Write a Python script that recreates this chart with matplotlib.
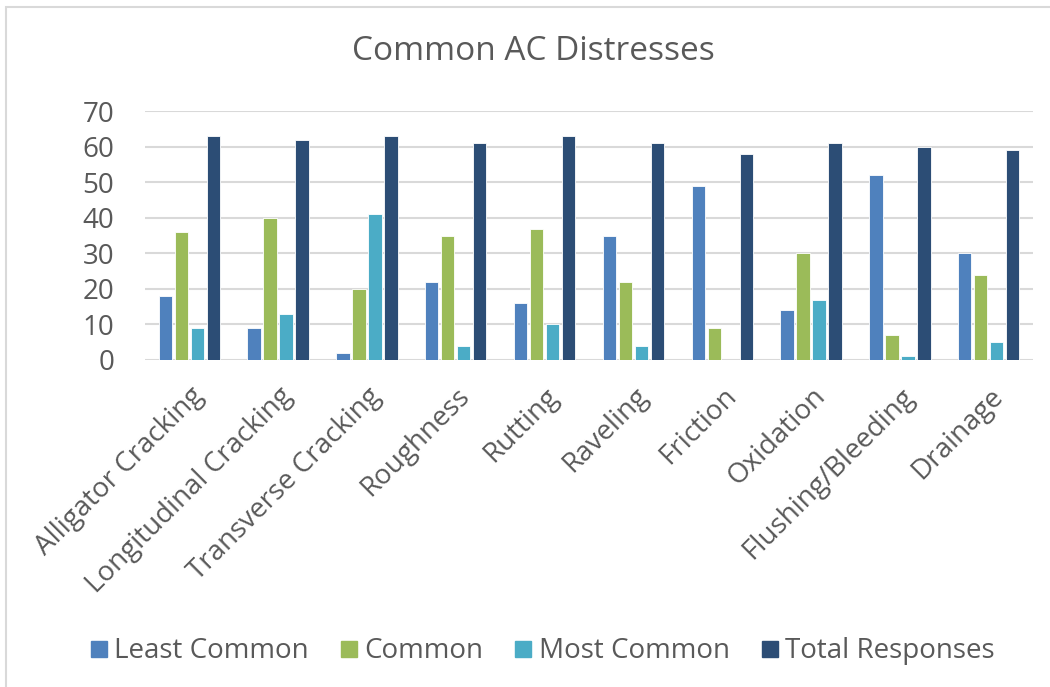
import numpy as np
import matplotlib.pyplot as plt
from matplotlib.patches import Rectangle
from matplotlib.lines import Line2D

plt.rcParams['font.family'] = ['Open Sans', 'DejaVu Sans']

categories = ["Alligator Cracking", "Longitudinal Cracking", "Transverse Cracking",
              "Roughness", "Rutting", "Raveling", "Friction", "Oxidation",
              "Flushing/Bleeding", "Drainage"]
least_common = [18, 9, 2, 22, 16, 35, 49, 14, 52, 30]
common = [36, 40, 20, 35, 37, 22, 9, 30, 7, 24]
most_common = [9, 13, 41, 4, 10, 4, 0, 17, 1, 5]
total_responses = [63, 62, 63, 61, 63, 61, 58, 61, 60, 59]

series = [("Least Common", least_common, "#4F81BD"),
          ("Common", common, "#9BBB59"),
          ("Most Common", most_common, "#4BACC6"),
          ("Total Responses", total_responses, "#2C4D75")]

txt = "#595959"
fig = plt.figure(figsize=(10.5, 6.87), dpi=100)
ax = fig.add_axes([0.138, 0.476, 0.846, 0.362])

x = np.arange(len(categories))
step = 0.18
w = 0.15
for i, (name, vals, col) in enumerate(series):
    ax.bar(x + (i - 1.5) * step, vals, w, color=col, edgecolor="white",
           linewidth=0.6, zorder=3, label=name)

ax.set_xlim(-0.5, len(categories) - 0.5)
ax.set_ylim(0, 70)
ax.set_yticks(range(0, 71, 10))
ax.yaxis.grid(True, color="#D9D9D9", linewidth=1.5, zorder=0)
for s in ax.spines.values():
    s.set_visible(False)
ax.tick_params(length=0, labelsize=20, labelcolor=txt)
ax.tick_params(axis="y", pad=22)
ax.tick_params(axis="x", pad=16)
ax.set_xticks(x)
ax.set_xticklabels(categories, rotation=45, ha="right", rotation_mode="anchor",
                   fontsize=20, color=txt)

fig.text(0.508, 0.925, "Common AC Distresses", ha="center", va="center",
         fontsize=24, color=txt)

handles = [Line2D([], [], marker="s", linestyle="none", markersize=12,
                  markerfacecolor=c, markeredgecolor=c) for _, _, c in series]
fig.legend(handles, [n for n, _, _ in series], loc="center", ncol=4,
           bbox_to_anchor=(0.514, 0.052), frameon=False, fontsize=20,
           labelcolor=txt, handletextpad=0.05, columnspacing=0.95,
           handlelength=1.0)

# chart frame: only the left and top edges fall inside the image
frame = Rectangle((0.0055, -0.05), 1.1, 1.04, transform=fig.transFigure,
                  fill=False, edgecolor="#D9D9D9", linewidth=1.5)
fig.patches.append(frame)

fig.savefig("out.png", dpi=100)
